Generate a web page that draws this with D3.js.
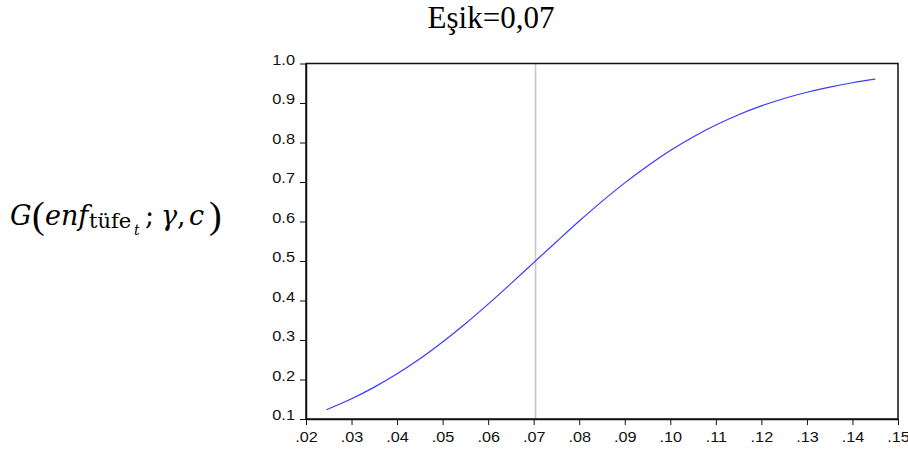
<!DOCTYPE html>
<html>
<head>
<meta charset="utf-8">
<script src="https://cdn.jsdelivr.net/npm/d3@7"></script>
<style>
html,body{margin:0;padding:0;background:#fff;}
svg{display:block;}
</style>
</head>
<body>
<svg id="chart" width="908" height="452"></svg>
<script>
// Data
const xValues = [0.0245, 0.03, 0.035, 0.04, 0.045, 0.05, 0.055, 0.06, 0.065, 0.07, 0.075, 0.08, 0.085,
                 0.09, 0.095, 0.10, 0.105, 0.11, 0.115, 0.12, 0.125, 0.13, 0.135, 0.14, 0.145];
const gValues = [0.1235, 0.1512, 0.1807, 0.2145, 0.2526, 0.2951, 0.3412, 0.3908, 0.4427, 0.4958, 0.5488, 0.6011, 0.6510,
                 0.6978, 0.7407, 0.7797, 0.8141, 0.8443, 0.8704, 0.8926, 0.9114, 0.9272, 0.9404, 0.9513, 0.9603];
const threshold = 0.0704;
const xTicks = [0.02, 0.03, 0.04, 0.05, 0.06, 0.07, 0.08, 0.09, 0.10, 0.11, 0.12, 0.13, 0.14, 0.15];
const xTickLabels = [".02", ".03", ".04", ".05", ".06", ".07", ".08", ".09", ".10", ".11", ".12", ".13", ".14", ".15"];
const yTicks = [0.1, 0.2, 0.3, 0.4, 0.5, 0.6, 0.7, 0.8, 0.9, 1.0];
const yTickLabels = ["0.1", "0.2", "0.3", "0.4", "0.5", "0.6", "0.7", "0.8", "0.9", "1.0"];
const titleText = "Eşik=0,07";

const svg = d3.select("#chart");
const L = 306, R = 898, T = 63.5, B = 419;
const x = d3.scaleLinear().domain([0.02, 0.15]).range([L, R]);
const y = d3.scaleLinear().domain([0.1, 1.0]).range([B, T]);

// Title
svg.append("text")
  .attr("x", 491).attr("y", 28)
  .attr("text-anchor", "middle")
  .attr("font-family", "'Liberation Serif','Times New Roman',serif")
  .attr("font-size", 31)
  .text(titleText);

// Y axis label: G(enf_{tüfe_t}; γ, c)
const serif = "'DejaVu Serif','Liberation Serif',serif";
const lab = svg.append("text")
  .attr("y", 225)
  .attr("font-family", serif)
  .attr("font-size", 27);
lab.append("tspan").attr("x", 10).attr("font-style", "italic").text("G");
lab.append("tspan").attr("x", 32).attr("font-family", "'Liberation Serif',serif").attr("font-size", 38).attr("dy", 3).text("(");
lab.append("tspan").attr("x", 45).attr("dy", -3).attr("font-style", "italic").text("enf");
lab.append("tspan").attr("x", 89).attr("font-size", 21).attr("dy", 3).text("tüfe");
lab.append("tspan").attr("x", 134).attr("font-style", "italic").attr("font-size", 14).attr("dy", 7).text("t");
lab.append("tspan").attr("x", 145).attr("dy", -10).text(";");
lab.append("tspan").attr("x", 161).attr("font-style", "italic").text("γ");
lab.append("tspan").attr("x", 177).text(",");
lab.append("tspan").attr("x", 189).attr("font-style", "italic").text("c");
lab.append("tspan").attr("x", 209).attr("font-family", "'Liberation Serif',serif").attr("font-size", 38).attr("dy", 3).text(")");

// threshold line
svg.append("line")
  .attr("x1", x(threshold)).attr("x2", x(threshold))
  .attr("y1", T).attr("y2", B)
  .attr("stroke", "#c8c8c8").attr("stroke-width", 1.6);

// curve
const line = d3.line()
  .x((d, i) => x(xValues[i]))
  .y((d, i) => y(gValues[i]))
  .curve(d3.curveCatmullRom);
svg.append("path")
  .datum(gValues)
  .attr("d", line)
  .attr("fill", "none")
  .attr("stroke", "#3a3aff")
  .attr("stroke-width", 1.2);

// frame
svg.append("rect")
  .attr("x", L).attr("y", T).attr("width", R - L).attr("height", B - T)
  .attr("fill", "none").attr("stroke", "#111").attr("stroke-width", 1.5);

// Y axis
const yAxis = d3.axisLeft(y).tickValues(yTicks).tickSize(6).tickSizeOuter(0)
  .tickFormat((d, i) => yTickLabels[i]);
const gy = svg.append("g").attr("transform", `translate(${L},0)`).call(yAxis);
gy.select(".domain").attr("stroke", "#111").attr("stroke-width", 1.5);
gy.selectAll(".tick line").attr("stroke", "#111").attr("stroke-width", 1);
gy.selectAll(".tick text")
  .attr("font-family", "'Liberation Sans',Arial,sans-serif")
  .attr("font-size", 14)
  .attr("fill", "#111")
  .attr("x", -11)
  .attr("dy", "0.05em")
  .attr("transform", "translate(-11,0) scale(1.17,1) translate(11,0)");

// X axis
const xAxis = d3.axisBottom(x).tickValues(xTicks).tickSize(6).tickSizeOuter(0)
  .tickFormat((d, i) => xTickLabels[i]);
const gx = svg.append("g").attr("transform", `translate(0,${B})`).call(xAxis);
gx.select(".domain").attr("stroke", "#111").attr("stroke-width", 1.5);
gx.selectAll(".tick line").attr("stroke", "#111").attr("stroke-width", 1);
gx.selectAll(".tick text")
  .attr("font-family", "'Liberation Sans',Arial,sans-serif")
  .attr("font-size", 14.5)
  .attr("fill", "#111")
  .attr("y", 13)
  .attr("transform", "scale(1.12,1)");
</script>
</body>
</html>
